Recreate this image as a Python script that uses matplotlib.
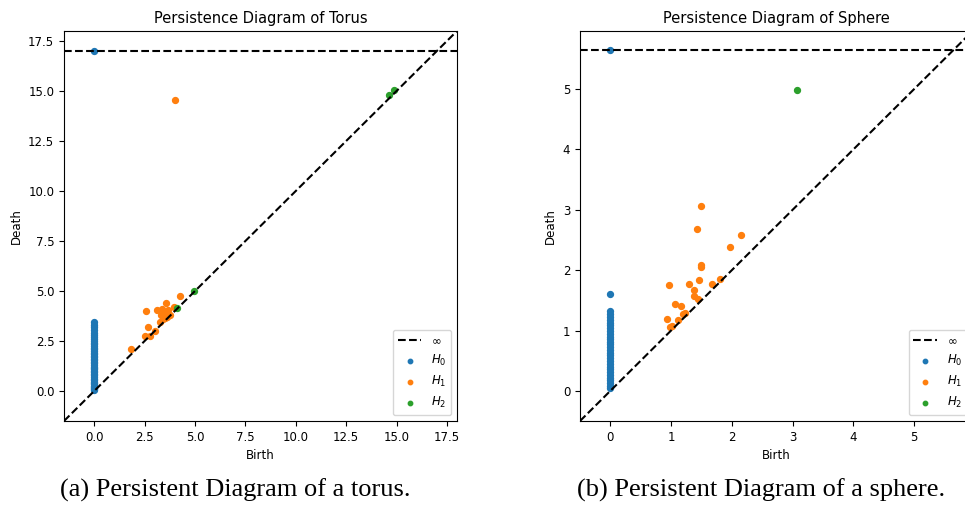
import matplotlib
matplotlib.use("Agg")
import matplotlib.pyplot as plt

# ---------------- Torus data ----------------
torus_h0_birth = [0.0] * 42
torus_h0_death = [0.03, 0.08, 0.14, 0.2, 0.27, 0.33, 0.4, 0.47, 0.55, 0.62,
                  0.7, 0.78, 0.86, 0.93, 1.0, 1.08, 1.15, 1.22, 1.3, 1.38,
                  1.45, 1.53, 1.6, 1.68, 1.76, 1.84, 1.92, 2.0, 2.08, 2.16,
                  2.24, 2.33, 2.42, 2.5, 2.6, 2.7, 2.8, 2.92, 3.05, 3.2,
                  3.32, 3.43]
torus_h0_inf_birth = [0.0]
torus_h1_birth = [1.8, 2.59, 2.68, 2.52, 2.78, 3.0, 3.11, 3.36, 3.58, 4.25,
                  3.24, 3.31, 3.48, 3.68, 3.78, 3.39, 3.98, 3.6, 3.5, 4.01]
torus_h1_death = [2.1, 4.0, 3.19, 2.77, 2.77, 2.99, 4.03, 4.08, 4.38, 4.75,
                  3.44, 3.78, 3.86, 4.03, 3.78, 3.58, 4.2, 3.7, 3.65, 14.54]
torus_h2_birth = [4.13, 4.95, 14.63, 14.88]
torus_h2_death = [4.15, 5.01, 14.79, 15.06]
torus_lim = [-1.5, 18.0]
torus_inf = 17.025
torus_ticks = [0.0, 2.5, 5.0, 7.5, 10.0, 12.5, 15.0, 17.5]

# ---------------- Sphere data ----------------
sphere_h0_birth = [0.0] * 30
sphere_h0_death = [0.05, 0.09, 0.13, 0.18, 0.22, 0.27, 0.31, 0.36, 0.4, 0.45,
                   0.5, 0.54, 0.59, 0.63, 0.68, 0.72, 0.77, 0.81, 0.86, 0.9,
                   0.95, 1.0, 1.04, 1.09, 1.13, 1.18, 1.22, 1.27, 1.32, 1.61]
sphere_h0_inf_birth = [0.0]
sphere_h1_birth = [1.5, 1.43, 2.15, 1.97, 1.5, 1.49, 1.46, 1.68, 1.81, 0.97,
                   1.3, 1.37, 1.37, 1.44, 1.06, 1.16, 1.2, 1.23, 1.11, 0.93,
                   0.98, 1.02]
sphere_h1_death = [3.06, 2.69, 2.58, 2.38, 2.09, 2.06, 1.84, 1.77, 1.85, 1.75,
                   1.77, 1.67, 1.57, 1.53, 1.44, 1.41, 1.27, 1.29, 1.18, 1.19,
                   1.06, 1.07]
sphere_h2_birth = [3.07]
sphere_h2_death = [4.98]
sphere_lim = [-0.497, 5.96]
sphere_inf = 5.64
sphere_ticks = [0, 1, 2, 3, 4, 5]

C0, C1, C2 = "#1f77b4", "#ff7f0e", "#2ca02c"

fig = plt.figure(figsize=(9.65, 5.15), dpi=100)


def draw(ax, lim, inf, h0b, h0d, h0ib, h1b, h1d, h2b, h2d, ticks, title):
    ax.plot(lim, lim, "--", c="k")
    ax.plot(lim, [inf, inf], "--", c="k", label=r"$\infty$")
    ax.scatter(h0b + h0ib, h0d + [inf] * len(h0ib), s=18, c=C0, label=r"$H_0$")
    ax.scatter(h1b, h1d, s=18, c=C1, label=r"$H_1$")
    ax.scatter(h2b, h2d, s=18, c=C2, label=r"$H_2$")
    ax.set_xlim(lim)
    ax.set_ylim(lim)
    ax.set_xticks(ticks)
    ax.set_yticks(ticks)
    ax.tick_params(labelsize=8.5)
    ax.set_xlabel("Birth", fontsize=8.5)
    ax.set_ylabel("Death", fontsize=8.5)
    ax.set_title(title, fontsize=10.5)
    ax.legend(loc="lower right", fontsize=8.5, markerscale=0.75,
              handlelength=2.0)


ax1 = fig.add_axes([64 / 965, 1 - 421 / 515, 393 / 965, 390 / 515])
draw(ax1, torus_lim, torus_inf, torus_h0_birth, torus_h0_death, torus_h0_inf_birth,
     torus_h1_birth, torus_h1_death, torus_h2_birth, torus_h2_death,
     torus_ticks, "Persistence Diagram of Torus")

ax2 = fig.add_axes([580 / 965, 1 - 421 / 515, 392.6 / 965, 390 / 515])
draw(ax2, sphere_lim, sphere_inf, sphere_h0_birth, sphere_h0_death, sphere_h0_inf_birth,
     sphere_h1_birth, sphere_h1_death, sphere_h2_birth, sphere_h2_death,
     sphere_ticks, "Persistence Diagram of Sphere")

fig.text(235 / 965, 1 - 490 / 515, "(a) Persistent Diagram of a torus.",
         family="Liberation Serif", fontsize=19, ha="center", va="center")
fig.text(761 / 965, 1 - 490 / 515, "(b) Persistent Diagram of a sphere.",
         family="Liberation Serif", fontsize=19, ha="center", va="center")

fig.savefig("out.png", dpi=100)
